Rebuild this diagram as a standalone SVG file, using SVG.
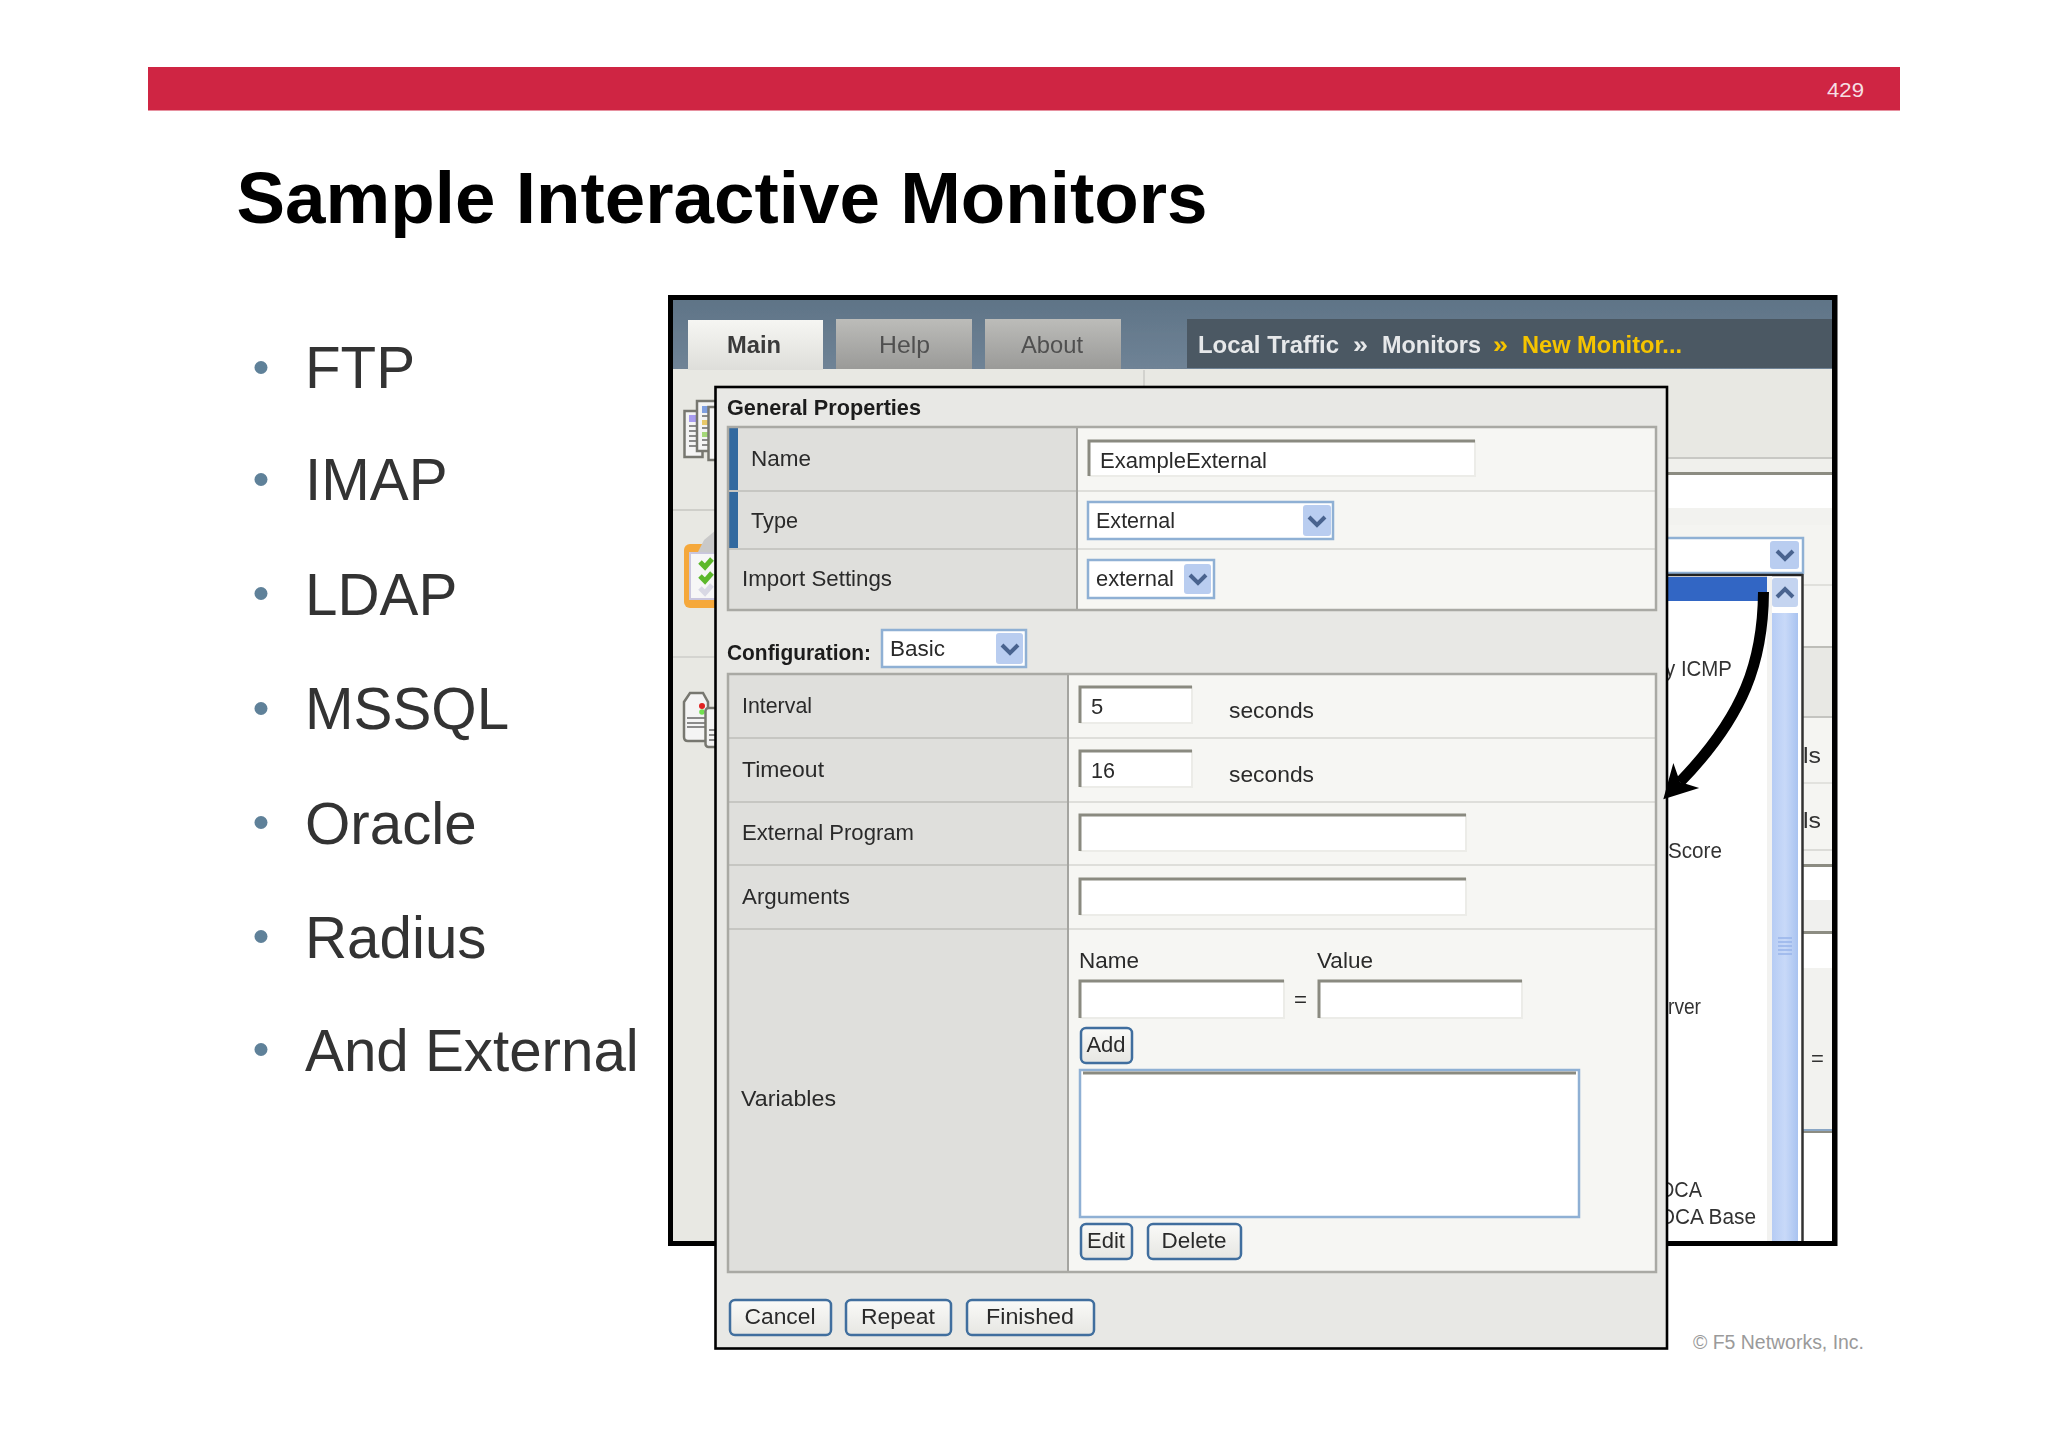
<svg xmlns="http://www.w3.org/2000/svg" xmlns:xlink="http://www.w3.org/1999/xlink" width="2048" height="1447" viewBox="0 0 2048 1447">
<style>
text{font-family:"Liberation Sans",Arial,sans-serif;fill:#2a2a2a}
.bul{font-size:58.3px;fill:#333}
.ui{font-size:22px}
.uib{font-size:22px;font-weight:700;fill:#1a1a1a}
.list{font-size:22px;fill:#333}
.crumb{font-size:24px;font-weight:700;fill:#e6e8ea}
.crumby{font-size:24px;font-weight:700;fill:#f5c400}
.dot{fill:#5f8199}
.lab{fill:#dfdfdc}
.val{fill:#f6f6f3}
.tb{fill:none;stroke:#a9a9a4;stroke-width:2.5}
.rl{stroke:#dededa;stroke-width:2}
.rd{stroke:#c6c6c2;stroke-width:2}
.coldiv{stroke:#a4a4a0;stroke-width:2}
.bar{fill:#33699f}
.in{fill:#fff}
.ine{fill:none;stroke:#8a8a80;stroke-width:3}
.inl{fill:none;stroke:#ecece8;stroke-width:2}
.sel{fill:#fff;stroke:#8fb0d4;stroke-width:2.5}
.sbtn{fill:#b9cdf0}
.chev{fill:none;stroke:#49648f;stroke-width:4}
.btn{fill:url(#gb);stroke:#3f6e9e;stroke-width:2.5}
.bt{font-size:22px;text-anchor:middle}
.doc{fill:#f4f4f4;stroke:#77776f;stroke-width:2.5}
.ln{stroke:#8a8a8a;stroke-width:2}
</style>
<defs>
<filter id="soft" x="-2%" y="-2%" width="104%" height="104%"><feGaussianBlur stdDeviation="0.5"/></filter>
<linearGradient id="gh" x1="0" y1="0" x2="0" y2="1"><stop offset="0" stop-color="#5f7487"/><stop offset="1" stop-color="#6f8396"/></linearGradient>
<linearGradient id="gm" x1="0" y1="0" x2="0" y2="1"><stop offset="0" stop-color="#f6f6f3"/><stop offset="1" stop-color="#dededa"/></linearGradient>
<linearGradient id="gt" x1="0" y1="0" x2="0" y2="1"><stop offset="0" stop-color="#bcbcb9"/><stop offset="1" stop-color="#9a9a98"/></linearGradient>
<linearGradient id="gb" x1="0" y1="0" x2="0" y2="1"><stop offset="0" stop-color="#fafaf8"/><stop offset="1" stop-color="#e6e6e2"/></linearGradient>
<linearGradient id="gs" x1="0" y1="0" x2="1" y2="0"><stop offset="0" stop-color="#b6ccf4"/><stop offset=".5" stop-color="#c8d9f8"/><stop offset="1" stop-color="#a9c3f0"/></linearGradient>
<path id="ch" class="chev" d="M-8 -4 L0 4 L8 -4"/>
<marker id="head" markerUnits="userSpaceOnUse" markerWidth="50" markerHeight="50" viewBox="0 0 50 50" refX="21" refY="25" orient="auto"><path d="M45 25 L12 7 L21 25 L12 43 Z" fill="#000"/></marker>
</defs>
<rect width="2048" height="1447" fill="#fff"/>
<g id="header-bar"><rect x="148" y="67" width="1752" height="43.5" fill="#cf2543"/>
<text x="1827" y="97" font-size="21" textLength="37" lengthAdjust="spacingAndGlyphs" style="fill:#f6dfe3">429</text></g>
<text id="title" x="236.5" y="223" font-size="72" font-weight="700" textLength="971" lengthAdjust="spacingAndGlyphs" style="fill:#000">Sample Interactive Monitors</text>
<g id="bullets">
<circle class="dot" cx="261" cy="367.5" r="6.5"/><text class="bul" x="305" y="388">FTP</text>
<circle class="dot" cx="261" cy="479.5" r="6.5"/><text class="bul" x="305" y="500">IMAP</text>
<circle class="dot" cx="261" cy="593.5" r="6.5"/><text class="bul" x="305" y="615">LDAP</text>
<circle class="dot" cx="261" cy="708.5" r="6.5"/><text class="bul" x="305" y="729">MSSQL</text>
<circle class="dot" cx="261" cy="822.5" r="6.5"/><text class="bul" x="305" y="844">Oracle</text>
<circle class="dot" cx="261" cy="936.5" r="6.5"/><text class="bul" x="305" y="958">Radius</text>
<circle class="dot" cx="261" cy="1049.5" r="6.5"/><text class="bul" x="305" y="1071">And External</text>
</g>
<text id="copyright" x="1693" y="1349" font-size="20" textLength="171" lengthAdjust="spacingAndGlyphs" style="fill:#9a9a9a">© F5 Networks, Inc.</text>

<g id="screenshot-back" filter="url(#soft)">
<rect x="668" y="295" width="1169.5" height="951" fill="#000"/>
<rect x="673" y="300" width="1159" height="941" fill="#e8e8e3"/>
<rect x="673" y="300" width="1159" height="69" fill="url(#gh)"/>
<line x1="1144" y1="370" x2="1144" y2="386" stroke="#d2d2ce" stroke-width="2"/>
<line x1="673" y1="510" x2="716" y2="510" stroke="#cfcfca" stroke-width="2"/>
<line x1="673" y1="657" x2="716" y2="657" stroke="#d4d4d0" stroke-width="2"/>
<g id="tab-main"><rect x="688" y="320" width="135" height="50" fill="url(#gm)"/><text x="727" y="353" font-size="24" font-weight="700" textLength="54" lengthAdjust="spacingAndGlyphs" style="fill:#3a3a3a">Main</text></g>
<g id="tab-help"><rect x="836" y="319" width="136" height="50" fill="url(#gt)"/><text x="879" y="353" font-size="24" textLength="51" lengthAdjust="spacingAndGlyphs" style="fill:#505050">Help</text></g>
<g id="tab-about"><rect x="985" y="319" width="136" height="50" fill="url(#gt)"/><text x="1021" y="353" font-size="24" textLength="62" lengthAdjust="spacingAndGlyphs" style="fill:#505050">About</text></g>
<g id="breadcrumb"><rect x="1187" y="319" width="645" height="49" fill="#4b5863"/>
<text class="crumb" x="1198" y="353" textLength="141" lengthAdjust="spacingAndGlyphs">Local Traffic</text>
<text class="crumb" x="1353" y="353" textLength="15" lengthAdjust="spacingAndGlyphs">»</text>
<text class="crumb" x="1382" y="353" textLength="99" lengthAdjust="spacingAndGlyphs">Monitors</text>
<text class="crumby" x="1493" y="353" textLength="15" lengthAdjust="spacingAndGlyphs">»</text>
<text class="crumby" x="1522" y="353" textLength="160" lengthAdjust="spacingAndGlyphs">New Monitor...</text></g>
<g id="icons">
<rect class="doc" x="684.5" y="411" width="18" height="46"/>
<rect x="689" y="415" width="7" height="7" fill="#a89cf0"/>
<path class="ln" d="M689 426H700M689 431H700M689 436H700M689 441H700M689 446H700"/>
<rect class="doc" x="697" y="401" width="20" height="50"/>
<rect x="702" y="406" width="6" height="7" fill="#7f9fe0"/><rect x="702" y="420" width="6" height="5" fill="#e8c868"/><rect x="702" y="432" width="6" height="5" fill="#a4d878"/>
<path class="ln" d="M702 416H708M702 428H708M702 440H708M702 445H708"/>
<rect class="doc" x="708.5" y="407" width="12" height="53"/>
<rect x="684" y="544" width="36" height="64" rx="6" fill="#f5a83a"/>
<rect x="689" y="552" width="32" height="48" fill="#c9c6de"/>
<rect x="691" y="554" width="30" height="44" fill="#f6f6f6"/>
<path d="M698 552 L704 540 L716 530 V553 Z" fill="#c9c9c9"/>
<path d="M700 562 L705 567 L712 559 M700 576 L705 581 L712 573" fill="none" stroke="#5cb82c" stroke-width="5"/>
<path d="M700 588 L705 593 L712 585" fill="none" stroke="#d8d8e4" stroke-width="5"/>
<path class="doc" d="M684 702 L690 693 H703 L708 702 V737 Q708 741 704 741 H688 Q684 741 684 737 Z"/>
<circle cx="702" cy="706" r="3" fill="#e02020"/><circle cx="702" cy="712" r="2.8" fill="#70e050"/>
<path class="ln" d="M687 718H705M687 723H705M687 727H705"/>
<rect class="doc" x="705.5" y="708" width="15" height="39" rx="3"/>
<path class="ln" d="M709 730H717M709 735H717M709 740H717"/>
</g>
<g id="right-rows">
<line x1="1668" y1="458" x2="1832" y2="458" stroke="#c8c8c4" stroke-width="2"/>
<rect x="1668" y="459" width="164" height="14" fill="#f0f0ec"/>
<rect x="1668" y="472" width="164" height="3" fill="#8c8c82"/>
<rect x="1668" y="475" width="164" height="33" fill="#fff"/>
<rect x="1668" y="508" width="164" height="17" fill="#f2f2ef"/>
<rect x="1668" y="525" width="164" height="122" fill="#f4f4f1"/>
<line x1="1668" y1="585" x2="1832" y2="585" stroke="#e0e0dc" stroke-width="2"/>
<rect x="1668" y="647" width="164" height="70" fill="#e8e8e4"/>
<line x1="1668" y1="647" x2="1832" y2="647" stroke="#bdbdb8" stroke-width="2"/>
<line x1="1668" y1="717" x2="1832" y2="717" stroke="#c4c4c0" stroke-width="2"/>
<rect x="1668" y="718" width="164" height="147" fill="#f5f5f2"/>
<line x1="1668" y1="783" x2="1832" y2="783" stroke="#e2e2de" stroke-width="2"/>
<line x1="1668" y1="850" x2="1832" y2="850" stroke="#dcdcd8" stroke-width="2"/>
<rect x="1668" y="864" width="164" height="3" fill="#8c8c82"/>
<rect x="1668" y="867" width="164" height="33" fill="#fff"/>
<rect x="1668" y="900" width="164" height="31" fill="#f0f0ee"/>
<rect x="1668" y="931" width="164" height="3" fill="#8c8c82"/>
<rect x="1668" y="934" width="164" height="34" fill="#fff"/>
<rect x="1668" y="968" width="164" height="161" fill="#f2f2ef"/>
<rect x="1668" y="1129" width="164" height="2" fill="#8aa6c4"/><rect x="1668" y="1131" width="164" height="2" fill="#8c8c82"/>
<rect x="1668" y="1133" width="164" height="108" fill="#fff"/>
<text class="list" x="1803" y="763" textLength="18" lengthAdjust="spacingAndGlyphs">ls</text>
<text class="list" x="1803" y="828" textLength="18" lengthAdjust="spacingAndGlyphs">ls</text>
<text class="list" x="1811" y="1066">=</text>
</g>
<g id="type-select">
<rect class="sel" x="1640" y="538" width="163" height="35"/>
<rect class="sbtn" x="1770" y="541" width="29" height="28" rx="3"/><use xlink:href="#ch" href="#ch" x="1785" y="555"/>
</g>
<g id="type-list">
<rect x="1640" y="574" width="163" height="667" fill="#fff"/>
<line x1="1640" y1="575" x2="1803" y2="575" stroke="#222" stroke-width="2.5"/>
<line x1="1802.5" y1="574" x2="1802.5" y2="1241" stroke="#333" stroke-width="2.5"/>
<rect x="1640" y="577" width="127" height="24" fill="#3366c4"/>
<rect x="1767" y="576" width="5" height="665" fill="#f2f2f0"/>
<rect x="1772" y="613" width="26" height="628" fill="url(#gs)"/>
<rect x="1772" y="578" width="26" height="29" rx="3" fill="#c4d4f0"/>
<use xlink:href="#ch" href="#ch" transform="translate(1785 593) scale(1 -1)"/>
<path d="M1778 938 H1792 M1778 942 H1792 M1778 946 H1792 M1778 950 H1792 M1778 954 H1792" stroke="#98b4ea" stroke-width="1.5"/>
<text class="list" x="1665" y="676" textLength="67" lengthAdjust="spacingAndGlyphs">y ICMP</text>
<text class="list" x="1668" y="858" textLength="54" lengthAdjust="spacingAndGlyphs">Score</text>
<text class="list" x="1668" y="1014" textLength="33" lengthAdjust="spacingAndGlyphs">rver</text>
<text class="list" x="1660" y="1197" textLength="42" lengthAdjust="spacingAndGlyphs">DCA</text>
<text class="list" x="1660" y="1224" textLength="96" lengthAdjust="spacingAndGlyphs">DCA Base</text>
</g>
</g>

<g id="dialog" transform="translate(0 1)" filter="url(#soft)">
<rect x="715.5" y="386" width="951.5" height="961.5" fill="#e8e8e5" stroke="#000" stroke-width="2.6"/>
<text class="uib" x="727" y="414" textLength="194" lengthAdjust="spacingAndGlyphs">General Properties</text>
<g id="general-table">
<rect class="lab" x="728" y="426" width="349" height="183"/>
<rect class="val" x="1077" y="426" width="579" height="183"/>
<rect class="bar" x="728" y="427" width="10" height="63"/><rect class="bar" x="728" y="491" width="10" height="57"/>
<line class="rl" x1="728" y1="490" x2="1656" y2="490"/><line class="rl" x1="728" y1="548" x2="1656" y2="548"/>
<line class="rd" x1="728" y1="490" x2="1077" y2="490"/><line class="rd" x1="728" y1="548" x2="1077" y2="548"/>
<line class="coldiv" x1="1077" y1="426" x2="1077" y2="609"/>
<rect class="tb" x="728" y="426" width="928" height="183"/>
<text class="ui" x="751" y="465" textLength="60" lengthAdjust="spacingAndGlyphs">Name</text>
<text class="ui" x="751" y="527" textLength="47" lengthAdjust="spacingAndGlyphs">Type</text>
<text class="ui" x="742" y="585" textLength="150" lengthAdjust="spacingAndGlyphs">Import Settings</text>
<rect class="in" x="1088" y="439" width="387" height="36"/><path class="inl" d="M1089 475 H1475 V439"/><path class="ine" d="M1089 475 V440 H1475"/>
<text class="ui" x="1100" y="467" textLength="167" lengthAdjust="spacingAndGlyphs">ExampleExternal</text>
<rect class="sel" x="1088" y="501" width="245" height="37"/><rect class="sbtn" x="1303" y="504" width="28" height="31" rx="3"/><use xlink:href="#ch" href="#ch" x="1317" y="520"/>
<text class="ui" x="1096" y="527" textLength="79" lengthAdjust="spacingAndGlyphs">External</text>
<rect class="sel" x="1088" y="559" width="126" height="38"/><rect class="sbtn" x="1184" y="563" width="27" height="30" rx="3"/><use xlink:href="#ch" href="#ch" x="1198" y="578"/>
<text class="ui" x="1096" y="585" textLength="78" lengthAdjust="spacingAndGlyphs">external</text>
</g>
<g id="configuration">
<text class="uib" x="727" y="659" textLength="144" lengthAdjust="spacingAndGlyphs">Configuration:</text>
<rect class="sel" x="882" y="629" width="144" height="37"/><rect class="sbtn" x="996" y="632" width="27" height="31" rx="3"/><use xlink:href="#ch" href="#ch" x="1010" y="648"/>
<text class="ui" x="890" y="655" textLength="55" lengthAdjust="spacingAndGlyphs">Basic</text>
</g>
<g id="config-table">
<rect class="lab" x="728" y="673" width="340" height="598"/>
<rect class="val" x="1068" y="673" width="588" height="598"/>
<line class="rl" x1="728" y1="737" x2="1656" y2="737"/><line class="rl" x1="728" y1="801" x2="1656" y2="801"/><line class="rl" x1="728" y1="864" x2="1656" y2="864"/><line class="rl" x1="728" y1="928" x2="1656" y2="928"/>
<line class="rd" x1="728" y1="737" x2="1068" y2="737"/><line class="rd" x1="728" y1="801" x2="1068" y2="801"/><line class="rd" x1="728" y1="864" x2="1068" y2="864"/><line class="rd" x1="728" y1="928" x2="1068" y2="928"/>
<line class="coldiv" x1="1068" y1="673" x2="1068" y2="1271"/>
<rect class="tb" x="728" y="673" width="928" height="598"/>
<text class="ui" x="742" y="712" textLength="70" lengthAdjust="spacingAndGlyphs">Interval</text>
<text class="ui" x="742" y="776" textLength="82" lengthAdjust="spacingAndGlyphs">Timeout</text>
<text class="ui" x="742" y="839" textLength="172" lengthAdjust="spacingAndGlyphs">External Program</text>
<text class="ui" x="742" y="903" textLength="108" lengthAdjust="spacingAndGlyphs">Arguments</text>
<text class="ui" x="741" y="1105" textLength="95" lengthAdjust="spacingAndGlyphs">Variables</text>
<rect class="in" x="1079" y="685" width="113" height="37"/><path class="inl" d="M1080 722 H1192 V685"/><path class="ine" d="M1080 722 V686 H1192"/>
<text class="ui" x="1091" y="713">5</text>
<text class="ui" x="1229" y="717" textLength="85" lengthAdjust="spacingAndGlyphs">seconds</text>
<rect class="in" x="1079" y="749" width="113" height="37"/><path class="inl" d="M1080 786 H1192 V749"/><path class="ine" d="M1080 786 V750 H1192"/>
<text class="ui" x="1091" y="777" textLength="24" lengthAdjust="spacingAndGlyphs">16</text>
<text class="ui" x="1229" y="781" textLength="85" lengthAdjust="spacingAndGlyphs">seconds</text>
<rect class="in" x="1079" y="813" width="387" height="37"/><path class="inl" d="M1080 850 H1466 V813"/><path class="ine" d="M1080 850 V814 H1466"/>
<rect class="in" x="1079" y="877" width="387" height="37"/><path class="inl" d="M1080 914 H1466 V877"/><path class="ine" d="M1080 914 V878 H1466"/>
<text class="ui" x="1079" y="967" textLength="60" lengthAdjust="spacingAndGlyphs">Name</text>
<text class="ui" x="1317" y="967" textLength="56" lengthAdjust="spacingAndGlyphs">Value</text>
<rect class="in" x="1079" y="979" width="205" height="38"/><path class="inl" d="M1080 1017 H1284 V979"/><path class="ine" d="M1080 1017 V980 H1284"/>
<text class="ui" x="1294" y="1006" textLength="13" lengthAdjust="spacingAndGlyphs">=</text>
<rect class="in" x="1318" y="979" width="204" height="38"/><path class="inl" d="M1319 1017 H1522 V979"/><path class="ine" d="M1319 1017 V980 H1522"/>
<rect class="btn" x="1081" y="1027" width="51" height="35" rx="5"/><text class="bt" x="1106" y="1051">Add</text>
<rect class="sel" x="1080" y="1069" width="499" height="147"/><line x1="1083" y1="1072" x2="1576" y2="1072" stroke="#8a8a80" stroke-width="3"/>
<rect class="btn" x="1081" y="1223" width="51" height="35" rx="5"/><text class="bt" x="1106" y="1247">Edit</text>
<rect class="btn" x="1148" y="1223" width="93" height="35" rx="5"/><text class="bt" x="1194" y="1247" textLength="65" lengthAdjust="spacingAndGlyphs">Delete</text>
</g>
<g id="dialog-buttons">
<rect class="btn" x="730" y="1299" width="101" height="35" rx="5"/><text class="bt" x="780" y="1323" textLength="71" lengthAdjust="spacingAndGlyphs">Cancel</text>
<rect class="btn" x="846" y="1299" width="105" height="35" rx="5"/><text class="bt" x="898" y="1323" textLength="74" lengthAdjust="spacingAndGlyphs">Repeat</text>
<rect class="btn" x="967" y="1299" width="127" height="35" rx="5"/><text class="bt" x="1030" y="1323" textLength="88" lengthAdjust="spacingAndGlyphs">Finished</text>
</g>
</g>

<g id="connectors">
<path d="M1763.5 592 C1763 660 1745 715 1680 782" fill="none" stroke="#000" stroke-width="11" marker-end="url(#head)"/>
</g>
</svg>
